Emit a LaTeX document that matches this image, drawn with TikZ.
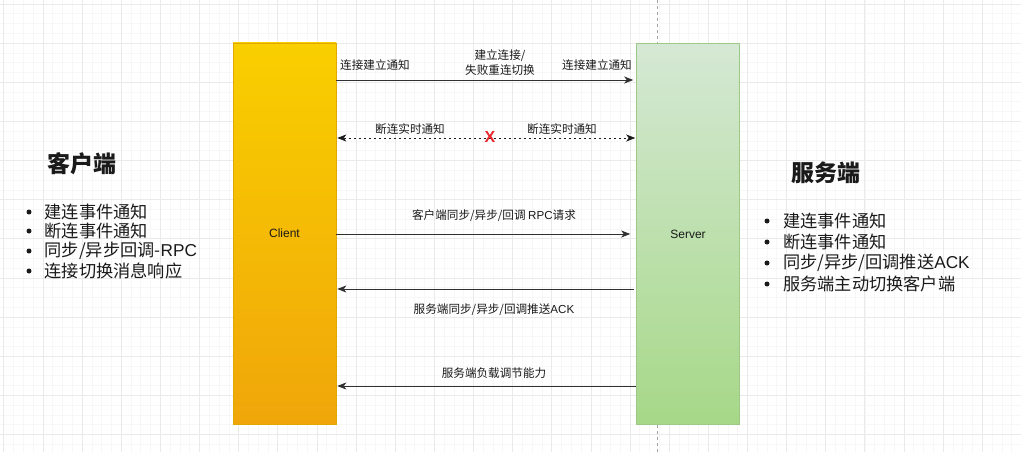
\documentclass[tikz,border=0pt]{standalone}
\usepackage{fontspec}
\setmainfont{Noto Sans CJK SC}
\newfontfamily\lat{Liberation Sans}
\usetikzlibrary{arrows.meta,shadings}
\definecolor{cliTop}{HTML}{F9CF00}
\definecolor{cliBot}{HTML}{F0A60A}
\definecolor{cliLine}{HTML}{E0A800}
\definecolor{srvTop}{HTML}{D5E8D4}
\definecolor{srvBot}{HTML}{A6D888}
\definecolor{srvLine}{HTML}{9CC987}
\definecolor{gridMinor}{HTML}{F7F7F7}
\definecolor{gridMajor}{HTML}{EAEAEA}
\definecolor{txt}{HTML}{1A1A1A}
\definecolor{xred}{HTML}{E8262B}
\tikzset{
  box/.style={rectangle, minimum width=103pt, minimum height=381pt, inner sep=0pt, line width=0.6pt},
  lbl/.style={font=\fontsize{11.6}{15}\selectfont, text=txt, inner sep=0pt, align=center},
  msg/.style={draw=txt!90, line width=0.7pt, -{Stealth[length=9pt,width=7pt,inset=2.5pt]}},
  dmsg/.style={msg, {Stealth[length=9pt,width=7pt,inset=2.5pt]}-{Stealth[length=9pt,width=7pt,inset=2.5pt]}, dash pattern=on 2.5pt off 2.5pt},
  title/.style={font=\fontsize{23}{26}\selectfont\bfseries, text=txt, inner sep=0pt},
  item/.style={font=\fontsize{17.2}{20}\selectfont, text=txt, inner sep=0pt, anchor=west},
  dot/.style={circle, fill=txt, inner sep=0pt, minimum size=5pt},
}
\begin{document}
\begin{tikzpicture}[x=1pt,y=-1pt]
\useasboundingbox (0,0) rectangle (1021,452);
\fill[white] (0,0) rectangle (1021,452);
% grid
\foreach \i in {0,...,104} {
  \draw[gridMinor, line width=0.5pt] ({3.7+\i*9.785},0) -- ({3.7+\i*9.785},452);
}
\foreach \i in {0,...,46} {
  \draw[gridMinor, line width=0.5pt] (0,{3.86+\i*9.785}) -- (1021,{3.86+\i*9.785});
}
\foreach \i in {0,...,26} {
  \draw[gridMajor, line width=0.6pt] ({3.7+\i*39.14},0) -- ({3.7+\i*39.14},452);
}
\foreach \i in {0,...,11} {
  \draw[gridMajor, line width=0.6pt] (0,{3.86+\i*39.14}) -- (1021,{3.86+\i*39.14});
}
% boxes
\node[box, draw=cliLine, top color=cliTop, bottom color=cliBot] (client) at (284.5,233.5) {};
\node[font=\lat\fontsize{12}{14}\selectfont, text=txt] (clientlbl) at (client.center) {Client};
\node[box, draw=srvLine, top color=srvTop, bottom color=srvBot] (server) at (688,234) {};
\node[font=\lat\fontsize{12}{14}\selectfont, text=txt] (serverlbl) at (server.center) {Server};
% dashed lifeline
\coordinate (ltop) at (657,0);
\coordinate (lbot) at (657,452);
\draw[gray!70, line width=0.6pt, dash pattern=on 3pt off 3pt] (ltop) -- (server.north -| ltop);
\draw[gray!70, line width=0.6pt, dash pattern=on 3pt off 3pt] (server.south -| lbot) -- (lbot);
% messages
\draw[msg, shorten >=3pt] (client.east |- 0,80) -- (server.west |- 0,80);
\node[lbl] (l1a) at (375,65) {连接建立通知};
\node[lbl] (l1b) at (500,63) {建立连接/\\失败重连切换};
\node[lbl] (l1c) at (597,65) {连接建立通知};
\draw[dmsg, draw=txt, shorten >=1pt, shorten <=1pt] (client.east |- 0,138) -- (server.west |- 0,138);
\node[lbl] (l2a) at (410,129) {断连实时通知};
\node[lbl] (l2b) at (562,129) {断连实时通知};
\node[font=\lat\bfseries\fontsize{16}{17}\selectfont, text=xred, inner sep=0pt] (xmark) at (490,137) {X};
\draw[msg, shorten >=6pt] (client.east |- 0,234) -- (server.west |- 0,234);
\node[lbl] (l3) at (494,216) {客户端同步/异步/回调 {\lat RPC}请求};
\draw[msg, shorten <=2pt, shorten >=1pt] (server.west |- 0,289) -- (client.east |- 0,289);
\node[lbl] (l4) at (494,310) {服务端同步/异步/回调推送{\lat ACK}};
\draw[msg, shorten >=1pt] (server.west |- 0,386) -- (client.east |- 0,386);
\node[lbl] (l5) at (494,373) {服务端负载调节能力};
% left text
\node[title] (ctitle) at (82,164) {客户端};
\foreach \y/\t [count=\k] in {212/建连事件通知, 231/断连事件通知, 251/{同步/异步回调-{\lat RPC}}, 271/连接切换消息响应} {
  \node[dot] (cd\k) at (29,\y) {};
  \node[item] (ci\k) at (44.5,\y) {\t};
}
% right text
\node[title] (stitle) at (826,173) {服务端};
\foreach \y/\t [count=\k] in {221/建连事件通知, 242/断连事件通知, 263/{同步/异步/回调推送{\lat ACK}}, 284/服务端主动切换客户端} {
  \node[dot] (sd\k) at (767,\y) {};
  \node[item] (si\k) at (783,\y) {\t};
}
\end{tikzpicture}
\end{document}
